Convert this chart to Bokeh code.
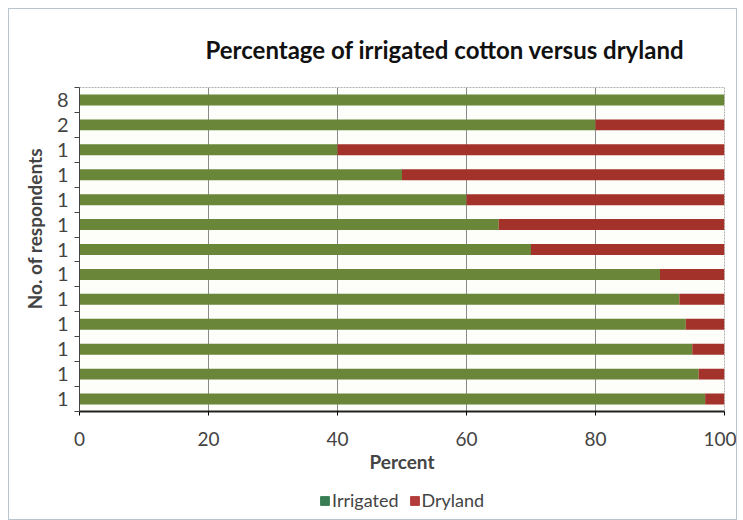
from bokeh.plotting import figure
from bokeh.layouts import column
from bokeh.models import FixedTicker, ColumnDataSource, Legend, LegendItem
from bokeh.embed import file_html
from bokeh.resources import INLINE

# Data (rows top to bottom)
respondents = ["8", "2", "1", "1", "1", "1", "1", "1", "1", "1", "1", "1", "1"]
irrigated = [100, 80, 40, 50, 60, 65, 70, 90, 93, 94, 95, 96, 97]
dryland = [0, 20, 60, 50, 40, 35, 30, 10, 7, 6, 5, 4, 3]
series = ["Irrigated", "Dryland"]
x_ticks = [0, 20, 40, 60, 80, 100]

n = len(respondents)
ypos = [n - i - 0.5 for i in range(n)]
src = ColumnDataSource(dict(y=ypos, irrigated=irrigated, dryland=dryland))

GREEN = "#6a8638"
RED = "#a3332a"
LEG_GREEN = "#3a7d55"
LEG_RED = "#b33c3c"
FONT = "Lato"

p = figure(width=727, height=470, x_range=(0, 100), y_range=(0, n),
           output_backend="svg", toolbar_location=None,
           min_border_left=70, min_border_right=12, min_border_top=74,
           min_border_bottom=68)
p.background_fill_color = "#fdfdf9"
p.border_fill_color = "white"
p.outline_line_color = "#b0b0b0"
p.outline_line_dash = "2 1"

rs = p.hbar_stack(["irrigated", "dryland"], y="y", height=0.44, color=[GREEN, RED],
                  line_color=None, source=src)

# Title
p.title.text = "Percentage of irrigated cotton versus dryland"
p.title.text_font = FONT
p.title.text_font_size = "24px"
p.title.text_font_style = "bold"
p.title.text_color = "#111111"
p.title.align = "left"
p.title.offset = 126
p.title.standoff = 47

# Axes
p.xaxis.ticker = FixedTicker(ticks=x_ticks)
p.xaxis.axis_label = "Percent"
p.xaxis.axis_label_text_font = FONT
p.xaxis.axis_label_text_font_style = "bold"
p.xaxis.axis_label_text_font_size = "19px"
p.xaxis.axis_label_standoff = 1
p.xaxis.major_label_text_font = FONT
p.xaxis.major_label_text_font_size = "19px"
p.xaxis.major_label_standoff = 16
p.xaxis.major_tick_in = 0
p.xaxis.major_tick_out = 4
p.xaxis.minor_tick_line_color = None
p.xaxis.axis_line_color = "#222222"
p.xaxis.axis_line_width = 2

p.yaxis.ticker = FixedTicker(ticks=ypos, minor_ticks=list(range(n + 1)))
p.yaxis.major_label_overrides = {y: lab for y, lab in zip(ypos, respondents)}
p.yaxis.axis_label = "\u00a0" * 9 + "No. of respondents"
p.yaxis.axis_label_text_font = FONT
p.yaxis.axis_label_text_font_style = "bold"
p.yaxis.axis_label_text_font_size = "19px"
p.yaxis.axis_label_standoff = 8
p.yaxis.major_label_text_font = FONT
p.yaxis.major_label_text_font_size = "20px"
p.yaxis.major_label_standoff = 5
p.yaxis.major_tick_line_color = None
p.yaxis.minor_tick_in = 0
p.yaxis.minor_tick_out = 5
p.yaxis.minor_tick_line_color = "#444444"
p.yaxis.axis_line_color = "#444444"

p.xgrid.grid_line_color = "#8a8a8a"
p.xgrid.grid_line_width = 1
p.ygrid.grid_line_color = None

# Legend strip below the chart (swatch renderers sit outside the visible range)
lg = figure(width=727, height=40, x_range=(0, 1), y_range=(0, 1),
            output_backend="svg", toolbar_location=None, min_border=0)
lg.axis.visible = False
lg.grid.grid_line_color = None
lg.outline_line_color = None
lg.background_fill_color = "white"
lg.border_fill_color = "white"
r1 = lg.hbar(y=[-10], right=[-10], height=0.5, color=LEG_GREEN)
r2 = lg.hbar(y=[-10], right=[-10], height=0.5, color=LEG_RED)
legend = Legend(items=[LegendItem(label=series[0], renderers=[r1]),
                       LegendItem(label=series[1], renderers=[r2])],
                orientation="horizontal", location=(240, 8),
                label_text_font=FONT, label_text_font_size="18px",
                glyph_width=11, glyph_height=11, label_standoff=2,
                spacing=10, border_line_color=None, background_fill_alpha=0,
                margin=0, padding=2)
lg.add_layout(legend, "center")

layout = column(p, lg, spacing=0)
layout.styles = {"border": "1px solid #b8c4d0", "margin": "8px", "background": "white"}

open("out.html", "w").write(file_html(layout, INLINE))
